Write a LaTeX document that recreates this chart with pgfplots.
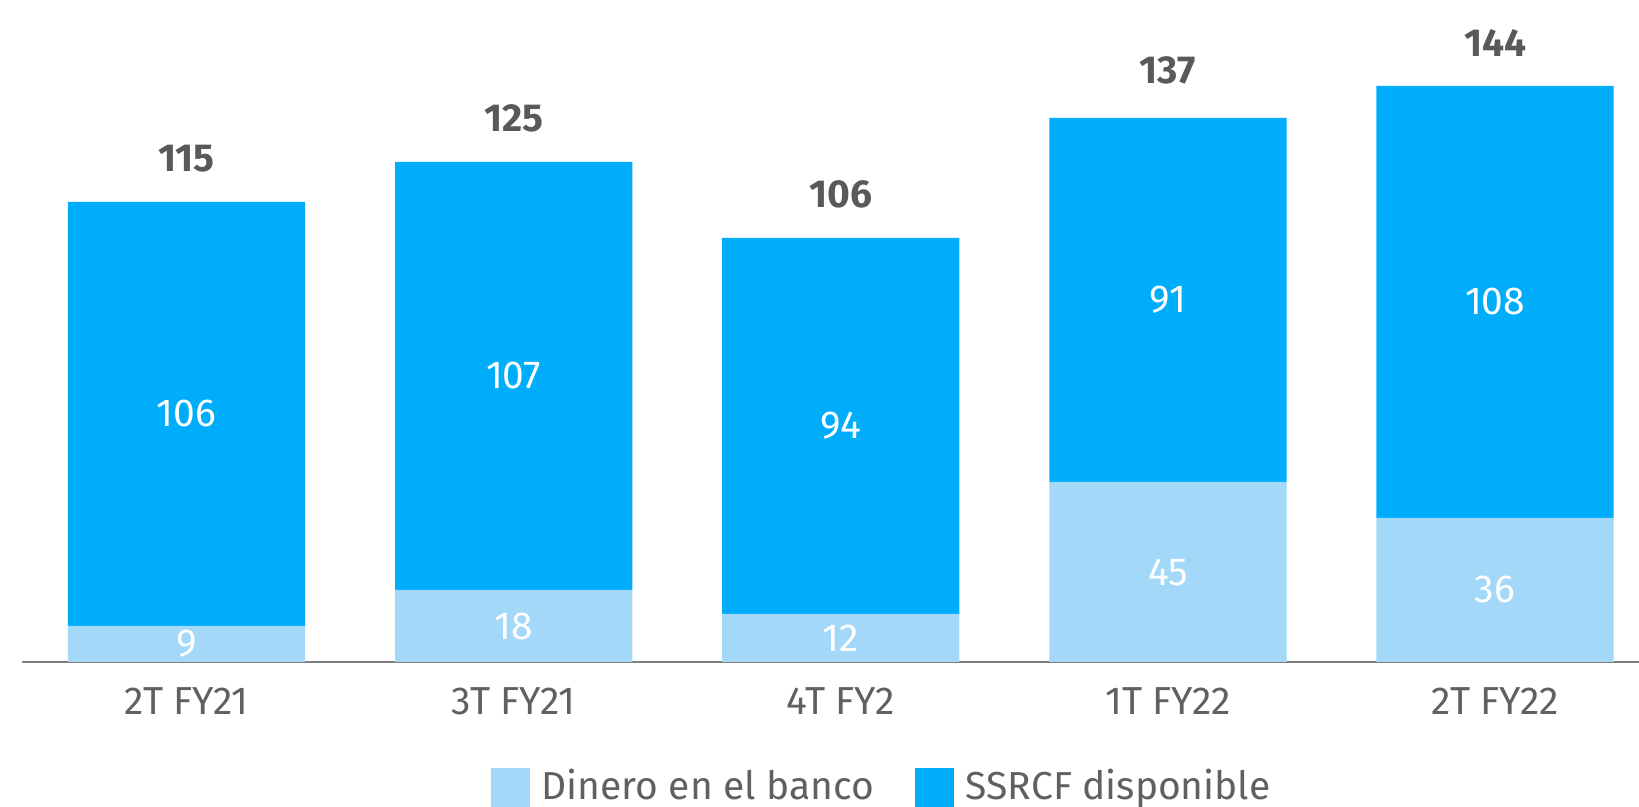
\documentclass[border=0pt]{standalone}
\usepackage{fontspec}
\setmainfont{Fira Sans}
\usepackage{pgfplots}
\usepackage{pgfplotstable}
\pgfplotsset{compat=1.18}
\definecolor{dark}{HTML}{00ADFA}
\definecolor{light}{HTML}{A3D8F9}
\definecolor{txt}{HTML}{595959}
\definecolor{tick}{HTML}{606060}
\definecolor{axl}{HTML}{7F7F7F}
\pgfplotstableread{
x bot top total
0 9 106 115
1 18 107 125
2 12 94 106
3 45 91 137
4 36 108 144
}\data
\pgfplotstableread{
x ybot lbot ytop ltop ytot ltot
0 4.5 9 62 106 125.8 115
1 9 18 71.5 107 135.8 125
2 6 12 59 94 116.8 106
3 22.5 45 90.5 91 147.8 137
4 18 36 90 108 154.8 144
}\labs
\begin{document}
\fontsize{19.5}{23}\selectfont
\begin{tikzpicture}
\pgfplotsset{base/.style={
  scale only axis, width=808.5pt, height=331pt,
  at={(0pt,0pt)}, anchor=south west,
  xmin=-0.503, xmax=4.44, ymin=0, ymax=165.5,
}}
\begin{axis}[base, name=ax,
  ybar stacked, bar width=0.725,
  axis x line*=bottom, axis y line=none,
  x axis line style={draw=axl, line width=1pt, -},
  xtick=data, xticklabels={2T FY21,3T FY21,4T FY2,1T FY22,2T FY22},
  major tick length=0pt,
  xticklabel style={text=tick, anchor=north, inner sep=0pt, yshift=-12.5pt, font=\fontsize{19.5}{23}\selectfont},
  ytick=\empty,
  legend style={at={(0.531,-0.189)}, anchor=center, draw=none, fill=none,
    legend columns=2, font=\fontsize{19.5}{23}\selectfont\color{tick},
    nodes={inner sep=0pt},
    /tikz/every odd column/.append style={column sep=6pt},
    /tikz/every even column/.append style={column sep=20.5pt},
    inner sep=0pt},
  legend image code/.code={\fill[#1] (0pt,-9.75pt) rectangle (19.5pt,9.75pt);},
  legend cell align=left,
]
\addplot[fill=light, draw=none] table[x=x, y=bot] {\data};
\addlegendentry{Dinero en el banco}
\addplot[fill=dark, draw=none] table[x=x, y=top] {\data};
\addlegendentry{SSRCF disponible}
\end{axis}
\begin{axis}[base, axis lines=none, ticks=none,
  nodes near coords, point meta=explicit symbolic,
  nodes near coords align={center}]
\addplot[draw=none, mark=none, nodes near coords style={text=white, anchor=center, font=\fontsize{19.5}{23}\selectfont}] table[x=x, y=ybot, meta=lbot] {\labs};
\addplot[draw=none, mark=none, nodes near coords style={text=white, anchor=center, font=\fontsize{19.5}{23}\selectfont}] table[x=x, y=ytop, meta=ltop] {\labs};
\addplot[draw=none, mark=none, nodes near coords style={text=txt, anchor=center, font=\fontsize{19.5}{23}\selectfont\bfseries}] table[x=x, y=ytot, meta=ltot] {\labs};
\end{axis}
\path (ax.south west) ++(-11pt,-72.5pt) coordinate (bl);
\pgfresetboundingbox
\useasboundingbox (bl) rectangle (ax.north east);
\end{tikzpicture}
\end{document}
